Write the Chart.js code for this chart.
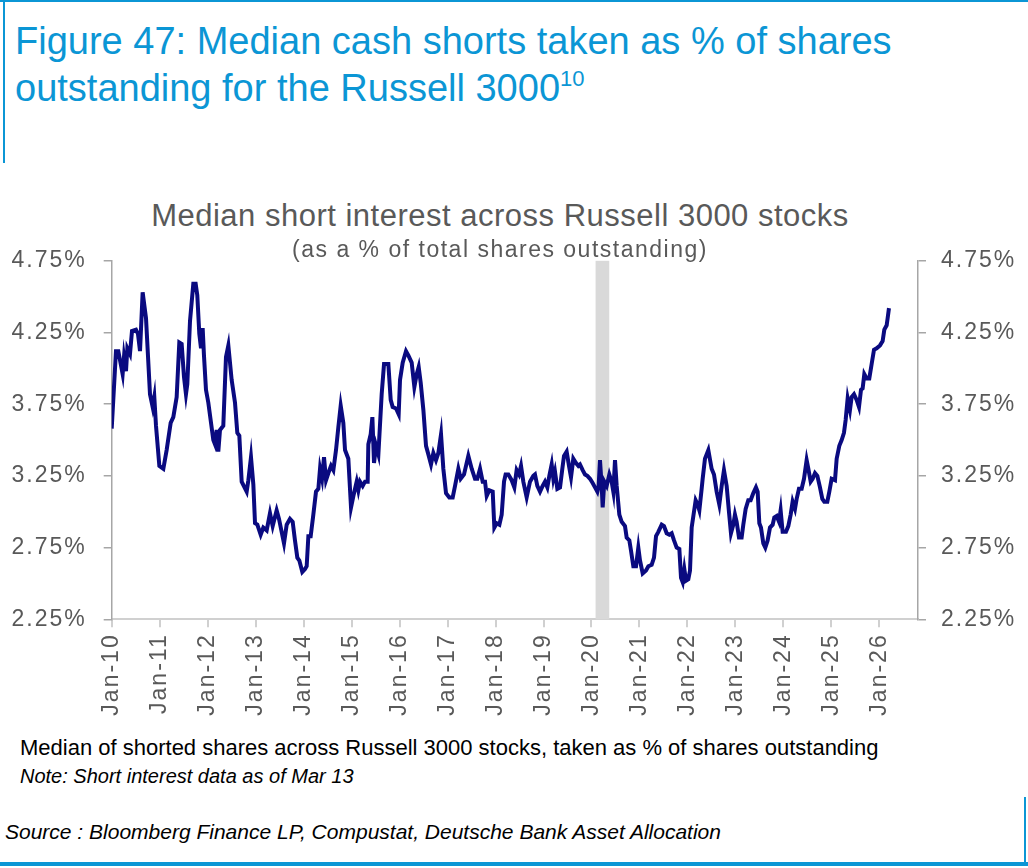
<!DOCTYPE html>
<html>
<head>
<meta charset="utf-8">
<script src="https://cdn.jsdelivr.net/npm/chart.js@4.4.1/dist/chart.umd.min.js"></script>
<style>
  html, body { margin:0; padding:0; background:#fff; }
  body { width:1028px; height:868px; position:relative; overflow:hidden; font-family:"Liberation Sans", Arial, sans-serif; }
  .abs { position:absolute; white-space:nowrap; }
  #title { left:15px; top:18px; font-size:38px; line-height:46.7px; color:#0b96d5; }
  #title sup { font-size:22px; vertical-align:baseline; position:relative; top:-15px; }
  #ctitle { left:0; width:1000px; text-align:center; top:200px; font-size:31px; line-height:31px; color:#595959; letter-spacing:0.5px; }
  #csub { left:0; width:1000px; text-align:center; top:238px; font-size:23px; line-height:23px; color:#595959; letter-spacing:1.5px; z-index:3; }
  #foot1 { left:20px; top:737px; font-size:22px; line-height:22px; color:#000; }
  #foot2 { left:20px; top:766px; font-size:20px; line-height:20px; color:#000; font-style:italic; }
  #source { left:5px; top:821px; font-size:21px; line-height:21px; color:#000; font-style:italic; }
  .bar { position:absolute; background:#0b96d5; }
  #wrap { position:absolute; left:0; top:230px; width:1028px; height:490px; z-index:2; }
</style>
</head>
<body>
<div class="bar" style="left:0;top:0;width:1028px;height:2px;"></div>
<div class="bar" style="left:3px;top:0;width:2px;height:163px;"></div>
<div class="bar" style="left:0;top:862px;width:1028px;height:4px;"></div>
<div class="bar" style="left:1024px;top:797px;width:2px;height:69px;"></div>

<div id="title" class="abs">Figure 47: Median cash shorts taken as % of shares<br>outstanding for the Russell 3000<sup>10</sup></div>
<div id="ctitle" class="abs">Median short interest across Russell 3000 stocks</div>
<div id="csub" class="abs">(as a % of total shares outstanding)</div>
<div id="wrap"><canvas id="c" width="1028" height="490"></canvas></div>
<div id="foot1" class="abs">Median of shorted shares across Russell 3000 stocks, taken as % of shares outstanding</div>
<div id="foot2" class="abs">Note: Short interest data as of Mar 13</div>
<div id="source" class="abs">Source : Bloomberg Finance LP, Compustat, Deutsche Bank Asset Allocation</div>

<script>
// ---- data (decimal year, median short interest %) ----
const dates = [
2010.000,2010.089,2010.138,2010.228,2010.256,2010.298,2010.326,2010.381,2010.423,2010.506,2010.548,2010.590,2010.645,2010.715,2010.798,2010.854,2010.888,2010.923,2010.993,
2011.076,2011.145,2011.229,2011.284,2011.354,2011.409,2011.458,2011.507,2011.548,2011.576,2011.632,2011.701,2011.750,2011.784,2011.826,2011.861,2011.896,2011.923,2011.965,
2012.014,2012.118,2012.153,2012.188,2012.222,2012.257,2012.326,2012.382,2012.431,2012.500,2012.570,2012.618,2012.660,2012.709,2012.813,2012.848,2012.903,2012.952,2012.987,
2013.035,2013.105,2013.160,2013.230,2013.299,2013.355,2013.438,2013.487,2013.542,2013.591,2013.647,2013.716,2013.772,2013.820,2013.869,2013.911,2013.973,
2014.029,2014.064,2014.099,2014.147,2014.203,2014.258,2014.307,2014.342,2014.384,2014.425,2014.467,2014.516,2014.571,2014.620,2014.675,2014.724,2014.773,2014.828,2014.863,2014.932,2014.988,
2015.037,2015.106,2015.141,2015.176,2015.231,2015.280,2015.335,2015.349,2015.398,2015.433,2015.467,2015.509,2015.558,2015.627,2015.676,2015.766,2015.815,2015.856,2015.926,2015.981,
2016.009,2016.065,2016.134,2016.183,2016.252,2016.308,2016.357,2016.398,2016.440,2016.496,2016.551,2016.600,2016.655,2016.704,2016.759,2016.808,2016.864,2016.912,2016.968,
2017.037,2017.107,2017.156,2017.225,2017.274,2017.343,2017.433,2017.503,2017.572,2017.621,2017.677,2017.732,2017.781,2017.816,2017.871,2017.941,2017.975,
2018.024,2018.080,2018.128,2018.177,2018.210,2018.267,2018.336,2018.392,2018.440,2018.489,2018.531,2018.579,2018.649,2018.718,2018.788,2018.822,2018.871,2018.927,2018.982,
2019.031,2019.080,2019.121,2019.170,2019.205,2019.239,2019.288,2019.344,2019.392,2019.427,2019.482,2019.531,2019.573,2019.621,2019.677,2019.726,2019.760,2019.816,2019.865,2019.913,2019.969,
2020.024,2020.073,2020.122,2020.149,2020.177,2020.212,2020.233,2020.267,2020.316,2020.372,2020.420,2020.455,2020.490,2020.525,2020.580,2020.629,2020.698,2020.733,2020.789,2020.823,2020.872,2020.928,2020.976,
2021.011,2021.067,2021.136,2021.185,2021.254,2021.303,2021.345,2021.393,2021.463,2021.511,2021.567,2021.622,2021.671,2021.720,2021.775,2021.831,2021.866,2021.900,2021.935,2021.970,
2022.018,2022.053,2022.088,2022.123,2022.171,2022.213,2022.248,2022.296,2022.317,2022.365,2022.435,2022.504,2022.553,2022.608,2022.664,2022.713,2022.761,2022.817,2022.865,2022.907,2022.956,2022.990,
2023.025,2023.074,2023.129,2023.164,2023.213,2023.268,2023.317,2023.373,2023.428,2023.463,2023.498,2023.532,2023.581,2023.623,2023.671,2023.720,2023.776,2023.810,2023.859,2023.908,2023.942,2023.984,
2024.053,2024.102,2024.151,2024.192,2024.241,2024.276,2024.324,2024.380,2024.429,2024.484,2024.519,2024.568,2024.609,2024.658,2024.707,2024.762,2024.811,2024.852,2024.915,2024.957,
2025.005,2025.075,2025.110,2025.165,2025.214,2025.262,2025.297,2025.339,2025.387,2025.422,2025.471,2025.526,2025.575,2025.617,2025.651,2025.686,2025.735,2025.790,2025.839,2025.888,2025.943,
2026.013,2026.068,2026.103,2026.152,2026.172,2026.200
];
const shortInterest = [
3.58,4.12,4.12,3.96,4.08,3.98,4.14,4.10,4.26,4.27,4.24,4.12,4.53,4.35,3.82,3.73,3.80,3.60,3.32,
3.30,3.43,3.62,3.66,3.80,4.18,4.17,3.94,3.82,3.89,4.33,4.59,4.59,4.51,4.24,4.14,4.28,4.09,3.85,
3.76,3.50,3.47,3.57,3.42,3.57,3.60,4.08,4.16,3.92,3.76,3.55,3.53,3.21,3.14,3.22,3.38,3.19,2.92,
2.91,2.84,2.89,2.87,2.99,2.90,3.01,2.95,2.86,2.78,2.91,2.95,2.93,2.80,2.68,2.66,2.58,
2.60,2.62,2.83,2.83,2.98,3.14,3.16,3.30,3.23,3.38,3.22,3.27,3.32,3.29,3.43,3.59,3.74,3.62,3.43,3.37,3.03,
3.11,3.21,3.15,3.21,3.18,3.21,3.21,3.47,3.54,3.66,3.34,3.46,3.40,3.82,4.03,4.03,3.78,3.73,3.72,3.68,
3.92,4.04,4.12,4.09,4.04,3.87,3.96,4.01,3.90,3.71,3.46,3.40,3.33,3.41,3.36,3.41,3.54,3.30,3.13,
3.10,3.10,3.18,3.30,3.23,3.26,3.39,3.30,3.23,3.23,3.30,3.21,3.21,3.11,3.15,3.14,2.89,
2.92,2.91,2.98,3.21,3.26,3.26,3.22,3.17,3.29,3.26,3.32,3.21,3.10,3.21,3.25,3.26,3.18,3.14,3.18,
3.21,3.17,3.25,3.33,3.23,3.28,3.16,3.17,3.30,3.39,3.42,3.32,3.24,3.37,3.34,3.32,3.33,3.29,3.26,3.25,3.23,
3.20,3.17,3.14,3.18,3.36,3.18,3.03,3.21,3.18,3.26,3.21,3.14,3.36,3.18,2.98,2.93,2.90,2.82,2.80,2.73,2.62,2.62,2.75,
2.66,2.57,2.59,2.62,2.63,2.68,2.83,2.86,2.91,2.90,2.85,2.84,2.85,2.80,2.75,2.74,2.54,2.51,2.60,2.52,
2.53,2.59,2.89,2.97,3.08,3.05,3.01,3.16,3.23,3.37,3.43,3.30,3.26,3.14,3.05,3.18,3.29,3.18,3.00,2.85,2.91,2.98,
2.93,2.82,2.82,2.91,3.02,3.08,3.08,3.13,3.17,3.14,2.92,2.89,2.78,2.75,2.80,2.89,2.91,2.96,2.97,2.93,3.01,2.86,
2.86,2.90,2.98,3.07,3.02,3.09,3.16,3.16,3.23,3.36,3.30,3.21,3.23,3.27,3.25,3.17,3.09,3.07,3.07,3.14,
3.23,3.22,3.37,3.46,3.50,3.55,3.64,3.79,3.71,3.80,3.82,3.78,3.73,3.85,3.86,3.96,3.93,3.93,4.03,4.13,4.14,
4.16,4.19,4.27,4.30,4.35,4.42
];
const xMin = 2010, xMax = 2026.805;
const yTicks = [2.25, 2.75, 3.25, 3.75, 4.25, 4.75];
const recessionStart = 2020.085, recessionEnd = 2020.37;

const points = dates.map((d, i) => ({ x: d, y: shortInterest[i] }));

const spacingPlugin = {
  id: 'spacing',
  beforeLayout(c) { c.ctx.letterSpacing = '2px'; },
  beforeDraw(c) { c.ctx.letterSpacing = '2px'; }
};
const recessionPlugin = {
  id: 'recession',
  beforeDatasetsDraw(c) {
    const { ctx, chartArea, scales } = c;
    const x0 = scales.x.getPixelForValue(recessionStart);
    const x1 = scales.x.getPixelForValue(recessionEnd);
    ctx.save();
    ctx.fillStyle = '#d9d9d9';
    ctx.fillRect(x0, chartArea.top, x1 - x0, chartArea.bottom - chartArea.top);
    ctx.restore();
  }
};

const tickFont = { family: '"Liberation Sans", Arial, sans-serif', size: 23 };
const yCommon = {
  type: 'linear',
  min: yTicks[0], max: yTicks[yTicks.length - 1],
  ticks: { stepSize: 0.5, color: '#595959', font: tickFont, padding: 17,
           callback: v => v.toFixed(2) + '%' },
  grid: { drawOnChartArea: false, drawTicks: true, tickLength: 8, color: '#a6a6a6', lineWidth: 1.5 },
  border: { display: true, color: '#a6a6a6', width: 1.5 }
};

new Chart(document.getElementById('c'), {
  type: 'line',
  data: {
    datasets: [{
      data: points,
      borderColor: '#0a0a80',
      borderWidth: 4,
      pointRadius: 0,
      tension: 0,
      fill: false,
      yAxisID: 'y'
    }]
  },
  options: {
    responsive: false,
    animation: false,
    layout: { padding: { top: 25, left: 0, right: 0, bottom: 0 } },
    plugins: { legend: { display: false }, tooltip: { enabled: false }, title: { display: false } },
    scales: {
      x: {
        type: 'linear', min: xMin, max: xMax,
        ticks: { stepSize: 1, includeBounds: false, autoSkip: false, minRotation: 90, maxRotation: 90,
                 color: '#595959', font: tickFont, padding: 6,
                 callback: v => Number.isInteger(v) ? 'Jan-' + String(v).slice(2) : '' },
        grid: { drawOnChartArea: false, drawTicks: true, tickLength: 8, color: '#d0d0d0', lineWidth: 2 },
        border: { display: true, color: '#d0d0d0', width: 2 },
        afterFit: s => { s.height = 100.7; }
      },
      y: Object.assign({}, yCommon, { position: 'left', afterFit: s => { s.width = 111.7; } }),
      y2: Object.assign({}, yCommon, { position: 'right', ticks: Object.assign({}, yCommon.ticks, { padding: 15 }), afterFit: s => { s.width = 110; } })
    }
  },
  plugins: [spacingPlugin, recessionPlugin]
});
</script>
</body>
</html>
